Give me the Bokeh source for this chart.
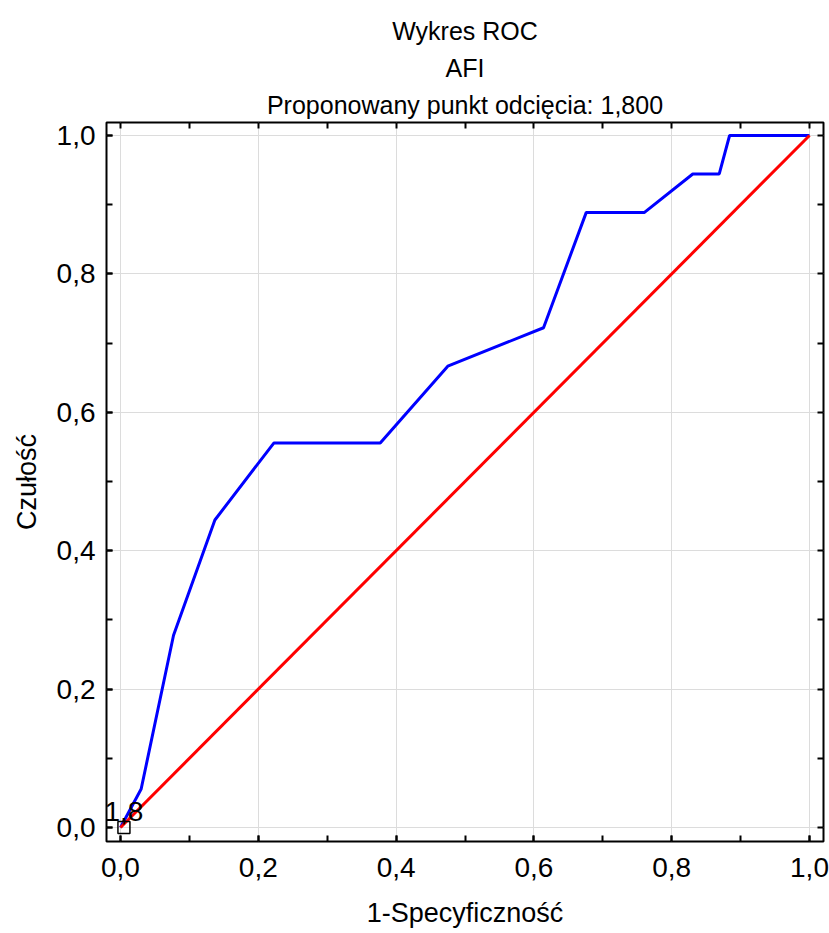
from bokeh.plotting import figure
from bokeh.models import LinearAxis, Title, Range1d, FixedTicker
from bokeh.embed import file_html
from bokeh.resources import INLINE
from bokeh.core.properties import value

# ROC curve for AFI (false-positive rate vs. sensitivity)
fpr = [0.0, 0.03, 0.077, 0.137, 0.2225, 0.377, 0.475, 0.614, 0.676, 0.7605, 0.8306, 0.869, 0.884, 1.0]
tpr = [0.0, 0.0556, 0.2778, 0.4444, 0.5556, 0.5556, 0.6667, 0.7222, 0.8889, 0.8889, 0.9444, 0.9444, 1.0, 1.0]

# reference diagonal (random classifier)
diag_x = [0.0, 1.0]
diag_y = [0.0, 1.0]

# proposed cut-off point
cut_x = [0.005]
cut_y = [0.0]
cut_label = ["1,8"]

tick_values = [0.0, 0.2, 0.4, 0.6, 0.8, 1.0]
tick_labels = ["0,0", "0,2", "0,4", "0,6", "0,8", "1,0"]
minor_values = [0.0, 0.1, 0.2, 0.3, 0.4, 0.5, 0.6, 0.7, 0.8, 0.9, 1.0]

title_lines = ["Wykres ROC", "AFI", "Proponowany punkt odcięcia: 1,800"]
x_title = "1-Specyficzność"
y_title = "Czułość"

FONT = "Liberation Sans"

p = figure(
    width=829, height=933,
    x_range=Range1d(-0.0203, 1.0203), y_range=Range1d(-0.0202, 1.0188),
    output_backend="svg", toolbar_location=None, title=None,
    min_border_left=106, min_border_right=6, min_border_top=122, min_border_bottom=92,
    background_fill_color="white", border_fill_color="white",
)
p.outline_line_color = "black"
p.outline_line_width = 2


def style_ticks(ax):
    ax.axis_line_color = None
    ax.major_tick_in = 6
    ax.major_tick_out = 0
    ax.minor_tick_in = 6
    ax.minor_tick_out = 0
    ax.major_tick_line_color = "black"
    ax.minor_tick_line_color = "black"
    ax.major_tick_line_width = 2
    ax.minor_tick_line_width = 2


# labelled axes (left, bottom): major ticks every 0.2, minor every 0.1
for ax, label in ((p.xaxis[0], x_title), (p.yaxis[0], y_title)):
    ax.ticker = FixedTicker(ticks=tick_values, minor_ticks=minor_values)
    style_ticks(ax)
    ax.major_label_overrides = {v: s for v, s in zip(tick_values, tick_labels)}
    ax.major_label_text_font = FONT
    ax.major_label_text_font_size = "28px"
    ax.major_label_text_color = "black"
    ax.axis_label = label
    ax.axis_label_text_font = FONT
    ax.axis_label_text_font_size = "27px"
    ax.axis_label_text_font_style = "normal"
    ax.axis_label_text_color = "black"

p.xaxis[0].major_label_standoff = 16
p.yaxis[0].major_label_standoff = 11
p.xaxis[0].axis_label_standoff = 18
p.yaxis[0].axis_label_standoff = 12

# unlabelled mirror axes (top, right): only the inward ticks every 0.1
top_axis = LinearAxis(ticker=FixedTicker(ticks=[], minor_ticks=minor_values))
right_axis = LinearAxis(ticker=FixedTicker(ticks=[], minor_ticks=minor_values))
style_ticks(top_axis)
style_ticks(right_axis)
# the top axis reserves a strip between the frame and the title lines
top_axis.major_tick_out = 12
p.add_layout(top_axis, "above")
p.add_layout(right_axis, "right")

# title lines stacked upward from the frame: the first one added sits lowest
for line in reversed(title_lines):
    p.add_layout(Title(text=line, align="center", text_font=FONT, text_font_size="25px",
                       text_font_style="normal", text_color="black", standoff=7), "above")

p.xgrid.ticker = FixedTicker(ticks=tick_values)
p.ygrid.ticker = FixedTicker(ticks=tick_values)
p.grid.grid_line_color = "#dcdcdc"
p.grid.grid_line_width = 1

p.line(fpr, tpr, line_color="#0000ff", line_width=3)
p.line(diag_x, diag_y, line_color="#ff0000", line_width=3)

p.scatter(cut_x, cut_y, marker="square", size=12, fill_color=None,
          line_color="black", line_width=1.5)
p.text(cut_x, cut_y, text=cut_label, text_align="center", text_baseline="alphabetic",
       y_offset=-16, text_font=value(FONT), text_font_size="28px", text_color="black")

open("out.html", "w").write(file_html(p, INLINE))
